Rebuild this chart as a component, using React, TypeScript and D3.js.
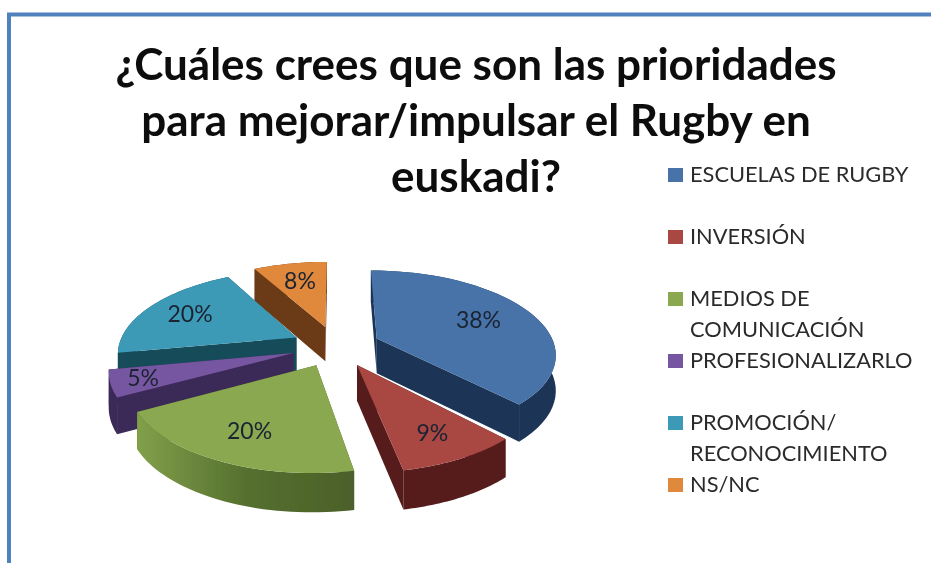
import React from "react";
import * as d3 from "d3";

const categories = [
  "ESCUELAS DE RUGBY",
  "INVERSIÓN",
  "MEDIOS DE COMUNICACIÓN",
  "PROFESIONALIZARLO",
  "PROMOCIÓN/ RECONOCIMIENTO",
  "NS/NC",
];
const values = [38, 9, 20, 5, 20, 8];
const legendLines = [
  ["ESCUELAS DE RUGBY"],
  ["INVERSIÓN"],
  ["MEDIOS DE", "COMUNICACIÓN"],
  ["PROFESIONALIZARLO"],
  ["PROMOCIÓN/", "RECONOCIMIENTO"],
  ["NS/NC"],
];
const titleLines = [
  "¿Cuáles crees que son las prioridades",
  "para mejorar/impulsar el Rugby en",
  "euskadi?",
];
const topColors = ["#4673a8", "#a94643", "#8aa84f", "#7657a0", "#3d9ab6", "#e0883a"];
const wallColors = ["#1b3556", "#561e1d", "#55702f", "#3b2a58", "#154b5a", "#6a3a14"];
const wallLight = ["#1b3556", "#561e1d", "#82a04a", "#3b2a58", "#154b5a", "#6a3a14"];
const wallDark = ["#1b3556", "#561e1d", "#4b6029", "#3b2a58", "#154b5a", "#6a3a14"];
// how far along its slice each percentage sits, 0 = tip, 1 = rim
const labelRadius = [0.66, 0.76, 0.72, 0.83, 0.72, 0.69];

const W = 931;
const H = 563;
const FONT = "Lato, 'Open Sans', sans-serif";

// fake perspective for the tilted pie
const cx = 336;
const cy = 346;
const rx = 178;
const ry = 82;
const persp = 0.17;
const depth = 35;
const explode = 0.25;

type P = { x: number; z: number };
const project = (p: P, drop = 0): [number, number] => {
  const s = 1 / (1 - persp * p.z);
  return [cx + rx * p.x * s, cy + ry * p.z * s + drop * Math.sqrt(s)];
};
const polar = (a: number, r: number, o: P = { x: 0, z: 0 }): P => ({
  x: o.x + r * Math.sin(a),
  z: o.z - r * Math.cos(a),
});

const pie = d3
  .pie<number>()
  .sort(null)
  .startAngle(0)
  .endAngle(2 * Math.PI);
const line = d3.line();

const slices = pie(values).map((d, i) => {
  const mid = (d.startAngle + d.endAngle) / 2;
  const apex = polar(mid, explode);
  const steps = d3.range(0, 41).map((k) => d.startAngle + ((d.endAngle - d.startAngle) * k) / 40);
  const rim = steps.map((a) => polar(a, 1, apex));
  return { i, value: d.value, mid, apex, rim, label: project(polar(mid, labelRadius[i], apex)) };
});
const paintOrder = d3.sort(slices, (s) => s.apex.z);

const legendY = d3
  .scalePoint<string>()
  .domain(categories)
  .range([175, 485]);

export default function App() {
  return (
    <svg
      width={W}
      height={H}
      viewBox={`0 0 ${W} ${H}`}
      style={{ position: "fixed", left: 0, top: 0, background: "#fff" }}
    >
      <defs>
        {slices.map((s) => (
          <linearGradient key={s.i} id={`wall${s.i}`} x1="0" x2="1" y1="0" y2="0">
            <stop offset="0" stopColor={wallLight[s.i]} />
            <stop offset="0.5" stopColor={wallColors[s.i]} />
            <stop offset="1" stopColor={wallDark[s.i]} />
          </linearGradient>
        ))}
        <filter id="soft" filterUnits="userSpaceOnUse" x="0" y="0" width={W} height={H}>
          <feGaussianBlur stdDeviation="0.5" />
        </filter>
      </defs>

      <g filter="url(#soft)">
        <path d="M9,570V14.5H940" fill="none" stroke="#4f81bd" strokeWidth={4} />

        <g fontFamily={FONT} fontWeight={700} fontSize={44} fill="#0d0d0d" textAnchor="middle">
          {titleLines.map((t, i) => (
            <text key={t} x={476} y={80 + i * 56}>
              {t}
            </text>
          ))}
        </g>

        {paintOrder.map((s) => {
          const top = s.rim.map((p) => project(p));
          const bottom = s.rim.map((p) => project(p, depth));
          const a = project(s.apex);
          const aLow = project(s.apex, depth);
          const first = s.rim[0];
          const last = s.rim[s.rim.length - 1];
          return (
            <g key={s.i}>
              <path
                d={line([a, project(first), project(first, depth), aLow])! + "Z"}
                fill={wallDark[s.i]}
              />
              <path
                d={line([a, project(last), project(last, depth), aLow])! + "Z"}
                fill={wallDark[s.i]}
              />
              <path
                d={line([...top, ...bottom.slice().reverse()])! + "Z"}
                fill={`url(#wall${s.i})`}
              />
              <path d={line([a, ...top])! + "Z"} fill={topColors[s.i]} />
            </g>
          );
        })}

        <g fontFamily={FONT} fontSize={23} fill="#1a2433" textAnchor="middle">
          {slices.map((s) => (
            <text key={s.i} x={s.label[0]} y={s.label[1]} dy="0.35em">
              {s.value}%
            </text>
          ))}
        </g>

        <g fontFamily={FONT} fontSize={21.8} fill="#2b2b2b">
          {categories.map((c, i) => {
            const y = legendY(c)!;
            return (
              <g key={c}>
                <rect x={668} y={y - 7} width={15} height={14} fill={topColors[i]} />
                {legendLines[i].map((l, k) => (
                  <text key={l} x={690} y={y + 7 + k * 31}>
                    {l}
                  </text>
                ))}
              </g>
            );
          })}
        </g>
      </g>
    </svg>
  );
}
